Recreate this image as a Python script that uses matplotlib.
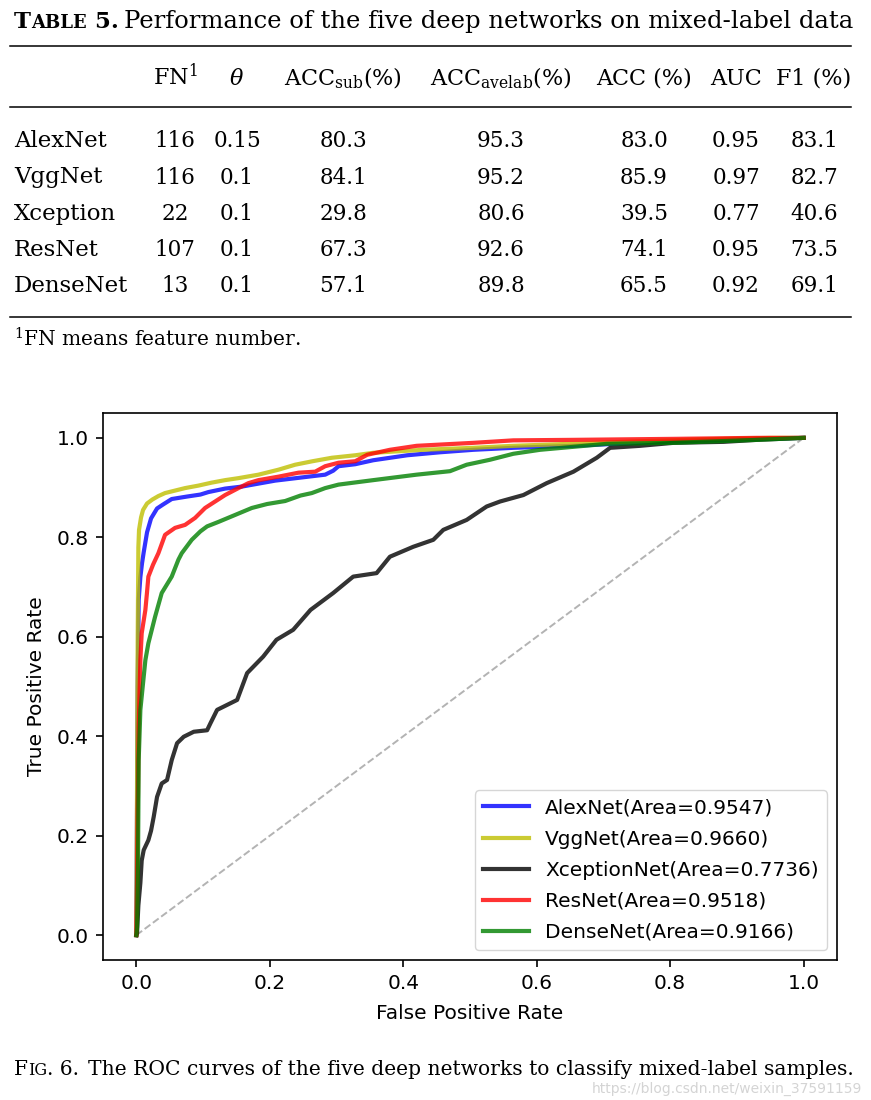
import matplotlib
matplotlib.use('Agg')
import matplotlib.pyplot as plt
import matplotlib.transforms as mtransforms
from matplotlib.lines import Line2D

# =============================================================================
# Table data
# =============================================================================

models = ['AlexNet', 'VggNet', 'Xception', 'ResNet', 'DenseNet']
fn = [116, 116, 22, 107, 13]
theta = ['0.15', '0.1', '0.1', '0.1', '0.1']
acc_sub = [80.3, 84.1, 29.8, 67.3, 57.1]
acc_avelab = [95.3, 95.2, 80.6, 92.6, 89.8]
acc = [83.0, 85.9, 39.5, 74.1, 65.5]
auc = [0.95, 0.97, 0.77, 0.95, 0.92]
f1 = [83.1, 82.7, 40.6, 73.5, 69.1]

headers = ['FN$^1$', r'$\theta$', r'ACC$_{\mathrm{sub}}$(%)',
           r'ACC$_{\mathrm{avelab}}$(%)', 'ACC (%)', 'AUC', 'F1 (%)']

# =============================================================================
# ROC curve data
# =============================================================================

alex_fpr = [0.0, 0.001, 0.002, 0.0035, 0.006, 0.0085, 0.011, 0.016, 0.022, 0.031,
            0.040, 0.053, 0.076, 0.096, 0.108, 0.133, 0.158, 0.183, 0.208, 0.233,
            0.258, 0.283, 0.295, 0.303, 0.328, 0.355, 0.406, 0.455, 0.505, 0.565,
            0.655, 0.75, 0.85, 0.95, 1.0]
alex_tpr = [0.0, 0.25, 0.50, 0.674, 0.72, 0.748, 0.77, 0.810, 0.838, 0.858,
            0.866, 0.877, 0.882, 0.886, 0.891, 0.898, 0.902, 0.908, 0.914, 0.918,
            0.922, 0.926, 0.934, 0.943, 0.947, 0.955, 0.965, 0.971, 0.976, 0.980,
            0.984, 0.990, 0.995, 0.999, 1.0]

vgg_fpr = [0.0, 0.001, 0.002, 0.003, 0.004, 0.007, 0.010, 0.016, 0.024, 0.033,
           0.043, 0.058, 0.073, 0.093, 0.113, 0.133, 0.153, 0.183, 0.213, 0.238,
           0.264, 0.293, 0.328, 0.355, 0.43, 0.505, 0.565, 0.65, 0.75, 0.85,
           0.95, 1.0]
vgg_tpr = [0.0, 0.30, 0.60, 0.78, 0.815, 0.84, 0.855, 0.868, 0.876, 0.883,
           0.889, 0.894, 0.899, 0.904, 0.910, 0.915, 0.919, 0.926, 0.936, 0.946,
           0.953, 0.960, 0.965, 0.970, 0.976, 0.980, 0.984, 0.988, 0.993, 0.997,
           1.0, 1.0]

xcep_fpr = [0.0, 0.001, 0.003, 0.006, 0.008, 0.011, 0.018, 0.022, 0.026, 0.031,
            0.038, 0.046, 0.053, 0.061, 0.071, 0.086, 0.106, 0.111, 0.121, 0.136,
            0.151, 0.166, 0.19, 0.21, 0.235, 0.261, 0.295, 0.325, 0.36, 0.38,
            0.415, 0.445, 0.46, 0.495, 0.525, 0.545, 0.58, 0.615, 0.655, 0.69,
            0.71, 0.755, 0.805, 0.88, 0.93, 1.0]
xcep_tpr = [0.0, 0.004, 0.06, 0.105, 0.15, 0.171, 0.191, 0.21, 0.238, 0.278,
            0.305, 0.312, 0.352, 0.386, 0.399, 0.409, 0.412, 0.426, 0.453, 0.463,
            0.473, 0.527, 0.56, 0.594, 0.614, 0.654, 0.688, 0.721, 0.728, 0.761,
            0.781, 0.795, 0.815, 0.835, 0.862, 0.872, 0.885, 0.909, 0.932, 0.96,
            0.98, 0.984, 0.990, 0.992, 0.996, 1.0]

res_fpr = [0.0, 0.001, 0.002, 0.0025, 0.0035, 0.005, 0.006, 0.008, 0.0135, 0.016,
           0.018, 0.025, 0.033, 0.043, 0.058, 0.073, 0.088, 0.103, 0.118, 0.133,
           0.153, 0.168, 0.183, 0.213, 0.243, 0.268, 0.283, 0.303, 0.328, 0.346,
           0.380, 0.42, 0.505, 0.565, 0.655, 0.805, 0.93, 1.0]
res_tpr = [0.0, 0.10, 0.25, 0.286, 0.42, 0.50, 0.553, 0.607, 0.654, 0.690,
           0.721, 0.745, 0.768, 0.805, 0.819, 0.825, 0.839, 0.859, 0.872, 0.885,
           0.899, 0.909, 0.915, 0.922, 0.930, 0.932, 0.943, 0.950, 0.953, 0.966,
           0.976, 0.984, 0.990, 0.995, 0.996, 0.998, 1.0, 1.0]

dense_fpr = [0.0, 0.001, 0.0025, 0.0035, 0.006, 0.0135, 0.018, 0.028, 0.038, 0.048,
             0.053, 0.063, 0.068, 0.083, 0.096, 0.106, 0.123, 0.148, 0.173, 0.196,
             0.223, 0.246, 0.263, 0.283, 0.303, 0.355, 0.42, 0.47, 0.495, 0.53,
             0.565, 0.605, 0.655, 0.705, 0.805, 0.93, 1.0]
dense_tpr = [0.0, 0.016, 0.151, 0.352, 0.453, 0.553, 0.587, 0.640, 0.688, 0.710,
             0.721, 0.755, 0.768, 0.795, 0.812, 0.822, 0.831, 0.845, 0.859, 0.867,
             0.873, 0.884, 0.889, 0.899, 0.906, 0.915, 0.926, 0.933, 0.946, 0.956,
             0.968, 0.976, 0.982, 0.988, 0.990, 0.996, 1.0]

auc_labels = ['AlexNet(Area=0.9547)', 'VggNet(Area=0.9660)', 'XceptionNet(Area=0.7736)',
              'ResNet(Area=0.9518)', 'DenseNet(Area=0.9166)']

# =============================================================================
# Figure
# =============================================================================

plt.rcParams['mathtext.fontset'] = 'dejavuserif'

fig = plt.figure(figsize=(8.71, 11), dpi=100)
# pixel coordinates measured from the top-left corner
px = mtransforms.Affine2D().scale(1 / 871, -1 / 1100).translate(0, 1) + fig.transFigure

serif = 'DejaVu Serif'
tsize = 15.5

def put_parts(x, y, parts, **kw):
    # place pieces of text one after another (used for small caps)
    r = fig.canvas.get_renderer()
    for s, size in parts:
        t = fig.text(x, y, s, transform=px, fontsize=size, va='baseline',
                     ha='left', family=serif, **kw)
        x += t.get_window_extent(renderer=r).width
    return x

# title
put_parts(14, 28, [('T', 16.5), ('ABLE', 13), (' 5.', 16.5)], weight='bold')
fig.text(124, 28, 'Performance of the five deep networks on mixed-label data',
         transform=px, fontsize=17.5, family=serif, va='baseline')

# rules
for yy in [45.7, 107.3, 316.7]:
    fig.add_artist(Line2D([10, 851], [yy, yy], transform=px, color='black', lw=1.1))

col_x = [175, 237, 343, 501, 644, 736, 814]
for cx, h in zip(col_x, headers):
    fig.text(cx, 85, h, transform=px, fontsize=16, family=serif,
             ha='center', va='baseline')

row_y = [147.3, 183.5, 219.7, 256, 292.2]
for i, name in enumerate(models):
    yy = row_y[i]
    cells = [str(fn[i]), theta[i], '%.1f' % acc_sub[i], '%.1f' % acc_avelab[i],
             '%.1f' % acc[i], '%.2f' % auc[i], '%.1f' % f1[i]]
    fig.text(14, yy, name, transform=px, fontsize=16.5, family=serif, va='baseline')
    for cx, c in zip(col_x, cells):
        fig.text(cx, yy, c, transform=px, fontsize=tsize, family=serif,
                 ha='center', va='baseline')

fig.text(14, 346.7, '$^1$FN means feature number.', transform=px, fontsize=14.5,
         family=serif, va='baseline')

# caption
put_parts(14, 1075, [('F', 14.5), ('IG', 11.5), ('. 6.', 14.5)])
fig.text(88, 1075, 'The ROC curves of the five deep networks to classify mixed-label samples.',
         transform=px, fontsize=14.6, family=serif, va='baseline')
fig.text(862, 1089, 'https://blog.csdn.net/weixin_37591159', transform=px, fontsize=10,
         color='#d4d4d4', ha='right', va='center')

# ROC chart
ax = fig.add_axes([103 / 871, 1 - 960 / 1100, 734 / 871, 547 / 1100])

ax.plot([0, 1], [0, 1], color='#b3b3b3', linestyle='--', lw=1.4)
ax.plot(alex_fpr, alex_tpr, 'b', alpha=0.8, lw=3, label=auc_labels[0])
ax.plot(vgg_fpr, vgg_tpr, 'y', alpha=0.8, lw=3, label=auc_labels[1])
ax.plot(xcep_fpr, xcep_tpr, 'k', alpha=0.8, lw=3, label=auc_labels[2])
ax.plot(res_fpr, res_tpr, 'r', alpha=0.8, lw=3, label=auc_labels[3])
ax.plot(dense_fpr, dense_tpr, 'g', alpha=0.8, lw=3, label=auc_labels[4])

ax.set_xlim(-0.05, 1.05)
ax.set_ylim(-0.05, 1.05)
ax.set_xticks([0.0, 0.2, 0.4, 0.6, 0.8, 1.0])
ax.set_yticks([0.0, 0.2, 0.4, 0.6, 0.8, 1.0])
ax.tick_params(labelsize=14.5, length=5, width=1.2, pad=5)
for sp in ax.spines.values():
    sp.set_linewidth(1.2)

ax.set_xlabel('False Positive Rate', fontsize=14.5, labelpad=8)
ax.set_ylabel('True Positive Rate', fontsize=14.5, labelpad=8)
ax.legend(loc='lower right', fontsize=14.5, handlelength=2.3, labelspacing=0.6)

fig.savefig('out.png', dpi=100)
